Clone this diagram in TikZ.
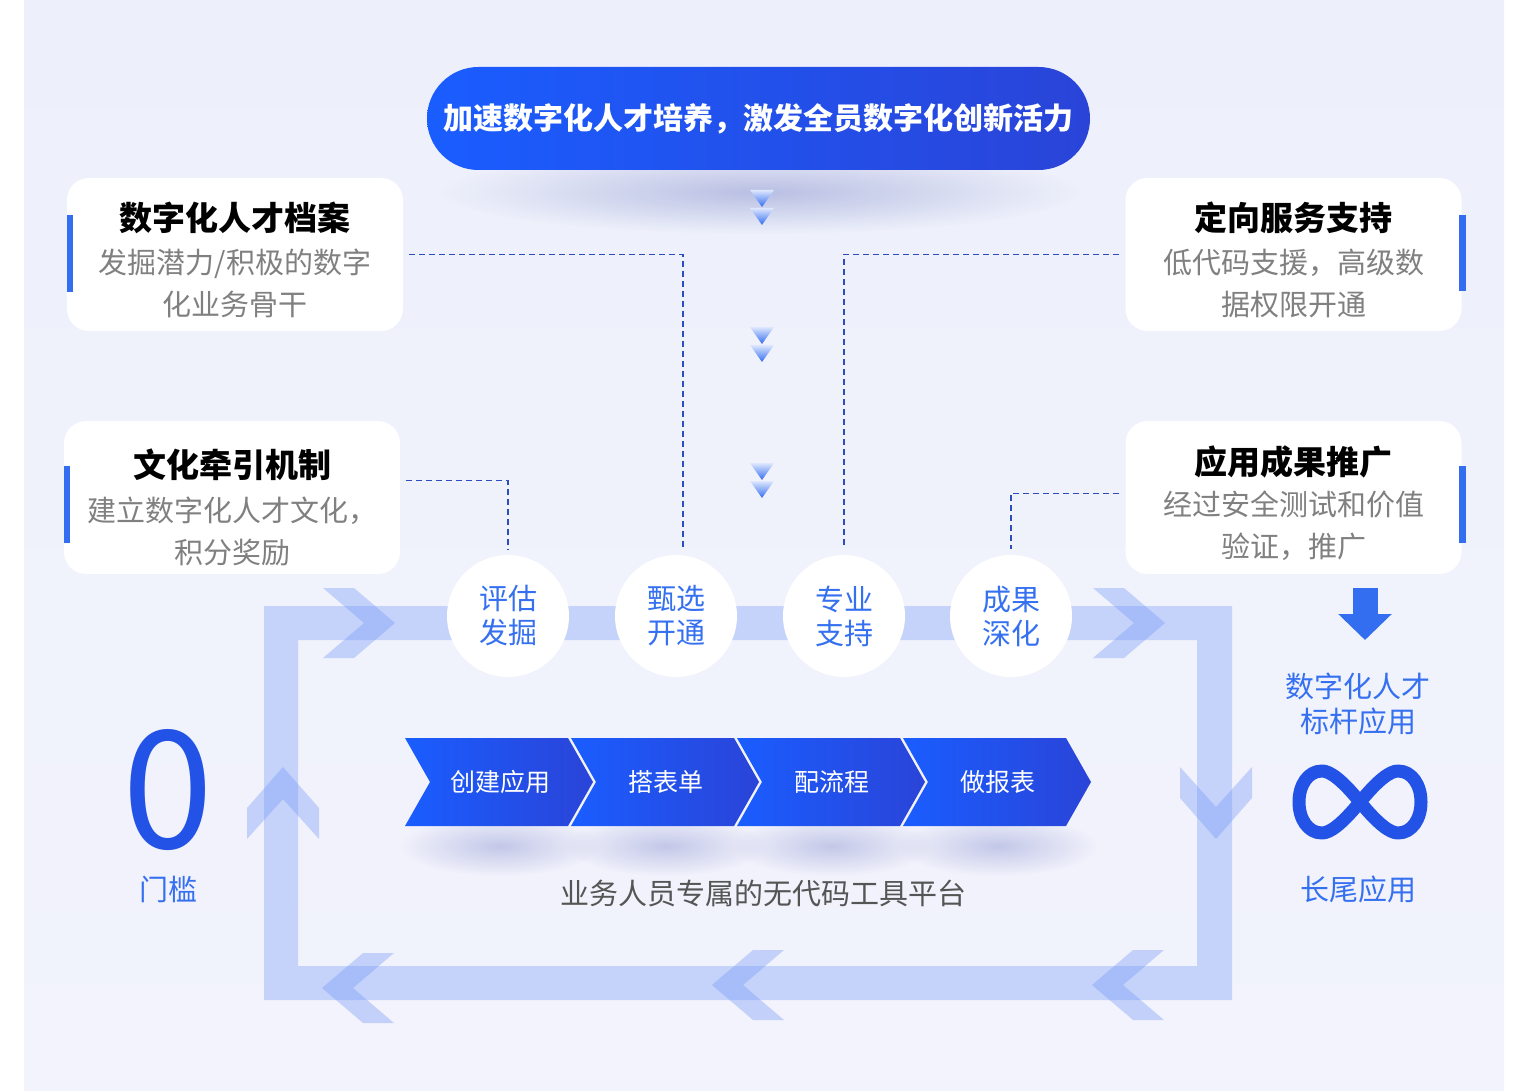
\documentclass[tikz,border=0pt]{standalone}
\usepackage{fontspec}
\setmainfont{Noto Sans CJK SC}
\usetikzlibrary{arrows.meta, calc, positioning, fadings}

\definecolor{pagebg}{RGB}{237,240,251}
\definecolor{panelmid}{RGB}{231,234,250}
\definecolor{panelbot}{RGB}{242,243,252}
\definecolor{deepblue}{RGB}{26,93,255}
\definecolor{navyblue}{RGB}{42,68,216}
\definecolor{barblue}{RGB}{52,110,240}
\definecolor{linkblue}{RGB}{43,77,190}
\definecolor{labelblue}{RGB}{53,112,240}
\definecolor{numblue}{RGB}{35,82,230}
\definecolor{bandblue}{RGB}{197,211,251}
\definecolor{chevblue}{RGB}{110,148,247}
\definecolor{descgray}{RGB}{128,128,128}
\definecolor{platgray}{RGB}{85,85,85}
\definecolor{shadowblue}{RGB}{150,158,212}
\definecolor{triwhite}{RGB}{222,231,253}

\tikzfading[name=softglow, inner color=transparent!0, outer color=transparent!100]

\begin{document}
\begin{tikzpicture}[x=1pt, y=-1pt,
    goal/.style={rounded corners=51.5pt, minimum width=663pt, minimum height=103pt, inner sep=0pt,
        left color=deepblue, right color=navyblue, text=white, font=\fontsize{30}{36}\selectfont\bfseries},
    card/.style={fill=white, rounded corners=22pt, minimum width=336pt, minimum height=153pt, inner sep=0pt},
    cardtitle/.style={font=\fontsize{33}{39}\selectfont\bfseries, text=black, inner sep=0pt},
    carddesc/.style={font=\fontsize{29}{42}\selectfont, text=descgray, align=center, inner sep=0pt},
    stage/.style={circle, fill=white, minimum size=122pt, inner sep=0pt, text=labelblue,
        align=center, font=\fontsize{29}{34}\selectfont},
    stagetxt/.style={text=white, font=\fontsize{25}{30}\selectfont, inner sep=0pt},
    bluelabel/.style={text=labelblue, align=center, font=\fontsize{29}{35}\selectfont, inner sep=0pt},
    link/.style={linkblue, line width=1.6pt, dash pattern=on 6pt off 4pt, shorten <=6pt, shorten >=6pt},
    chev/.style={chevblue, fill opacity=.35},
    glow/.style={shadowblue, path fading=softglow}]

    % background panel
    \useasboundingbox (0,0) rectangle (1524,1091);
    \fill[white] (0,0) rectangle (1524,1091);
    \shade[top color=pagebg, middle color=panelmid, bottom color=panelbot] (24,0) rectangle (1504,1091);

    % loop band and its chevrons
    \fill[bandblue, even odd rule] (264,606) rectangle (1232,1000) (298,640) rectangle (1197,966);
    \foreach \t in {395,1165} {
        \fill[chev] (\t-72,588) -- (\t-41,588) -- (\t,623) -- (\t-41,658) -- (\t-72,658) -- (\t-31,623) -- cycle;
    }
    \foreach \t/\c in {322/988,712/985,1092/985} {
        \fill[chev] (\t+72,\c-35) -- (\t+41,\c-35) -- (\t,\c) -- (\t+41,\c+35) -- (\t+72,\c+35) -- (\t+31,\c) -- cycle;
    }
    \fill[chev] (247,808) -- (283,767) -- (319,808) -- (319,839) -- (283,799) -- (247,839) -- cycle;
    \fill[chev] (1180,767) -- (1216,807) -- (1252,767) -- (1252,798) -- (1216,839) -- (1180,798) -- cycle;

    % top goal
    \fill[glow, opacity=.6] (760,192) ellipse (320 and 42);
    \node[goal] (goal) at (758.5,118.5) {加速数字化人才培养，激发全员数字化创新活力};

    % double triangles
    \foreach \y in {190,327,463} {
        \foreach \d in {0,18} {
            \shade[top color=triwhite, bottom color=barblue] (750,\y+\d) -- (774,\y+\d) -- (762,\y+\d+17) -- cycle;
        }
    }

    % cards, left
    \node[card] (profile) at (235,254.5) {};
    \fill[barblue] ([yshift=39pt]profile.west) rectangle ++(6,77);
    \node[cardtitle] (profileT) at ([yshift=37pt]profile.center) {数字化人才档案};
    \node[carddesc] (profileD) at ([yshift=-29pt]profile.center) {发掘潜力/积极的数字\\化业务骨干};

    \node[card] (culture) at (232,497.5) {};
    \fill[barblue] ([yshift=32pt]culture.west) rectangle ++(6,77);
    \node[cardtitle] (cultureT) at ([yshift=33pt]culture.center) {文化牵引机制};
    \node[carddesc] (cultureD) at ([yshift=-34pt]culture.center) {建立数字化人才文化，\\积分奖励};

    % cards, right
    \node[card] (service) at (1293.5,254.5) {};
    \fill[barblue] ([yshift=39pt,xshift=-3pt]service.east) rectangle ++(7,76);
    \node[cardtitle] (serviceT) at ([yshift=37pt]service.center) {定向服务支持};
    \node[carddesc] (serviceD) at ([yshift=-29pt]service.center) {低代码支援，高级数\\据权限开通};

    \node[card] (promo) at (1293.5,497.5) {};
    \fill[barblue] ([yshift=32pt,xshift=-3pt]promo.east) rectangle ++(7,77);
    \node[cardtitle] (promoT) at ([yshift=36pt]promo.center) {应用成果推广};
    \node[carddesc] (promoD) at ([yshift=-28pt]promo.center) {经过安全测试和价值\\验证，推广};

    % stages on the band
    \node[stage] (s1) at (508,616) {评估\\发掘};
    \node[stage] (s2) at (676,616) {甄选\\开通};
    \node[stage] (s3) at (844,616) {专业\\支持};
    \node[stage] (s4) at (1011,616) {成果\\深化};

    \draw[link] (profile.east) -| ([xshift=7pt]s2.north);
    \draw[link] ([yshift=17pt]culture.east) -| (s1.north);
    \draw[link] (service.west) -| (s3.north);
    \draw[link] ([yshift=4pt]promo.west) -| (s4.north);

    % no-code tool chain
    \foreach \i in {0,...,3} {
        \fill[glow, opacity=.5] (405+166*\i+95,846) ellipse (100 and 30);
    }
    \foreach \i/\txt in {0/创建应用,1/搭表单,2/配流程,3/做报表} {
        \pgfmathsetmacro\xa{405+166*\i}
        \shade[left color=deepblue, right color=navyblue] (\xa,738) -- (\xa+163,738) -- (\xa+188,782)
            -- (\xa+163,826) -- (\xa,826) -- (\xa+25,782) -- cycle;
        \node[stagetxt] (p\i) at (\xa+95,782) {\txt};
    }
    \node[text=platgray, font=\fontsize{29}{35}\selectfont, inner sep=0pt] (platform) at (763,893) {业务人员专属的无代码工具平台};

    % left: zero threshold
    \node[text=numblue, font=\fontsize{164}{170}\selectfont, inner sep=0pt] (zero) at (168,790) {0};
    \node[bluelabel] (threshold) at (168,889) {门槛};

    % right: long tail
    \coordinate (arrtop) at (1365,588);
    \coordinate (arrtip) at (1365,640);
    \draw[barblue, line width=25pt, -{Triangle[width=52pt, length=26pt]}] (arrtop) -- (arrtip);
    \node[bluelabel] (bench) at (1358,703.5) {数字化人才\\标杆应用};
    \draw[numblue, line width=13pt, line join=round]
        (1360,802) .. controls (1378,780) and (1390,771) .. (1398,771)
        .. controls (1412,771) and (1421,785) .. (1421,802)
        .. controls (1421,819) and (1412,833) .. (1398,833)
        .. controls (1390,833) and (1378,824) .. (1360,802)
        .. controls (1342,780) and (1330,771) .. (1322,771)
        .. controls (1308,771) and (1299,785) .. (1299,802)
        .. controls (1299,819) and (1308,833) .. (1322,833)
        .. controls (1330,833) and (1342,824) .. (1360,802) -- cycle;
    \node[bluelabel] (longtail) at (1358,889) {长尾应用};
\end{tikzpicture}
\end{document}
